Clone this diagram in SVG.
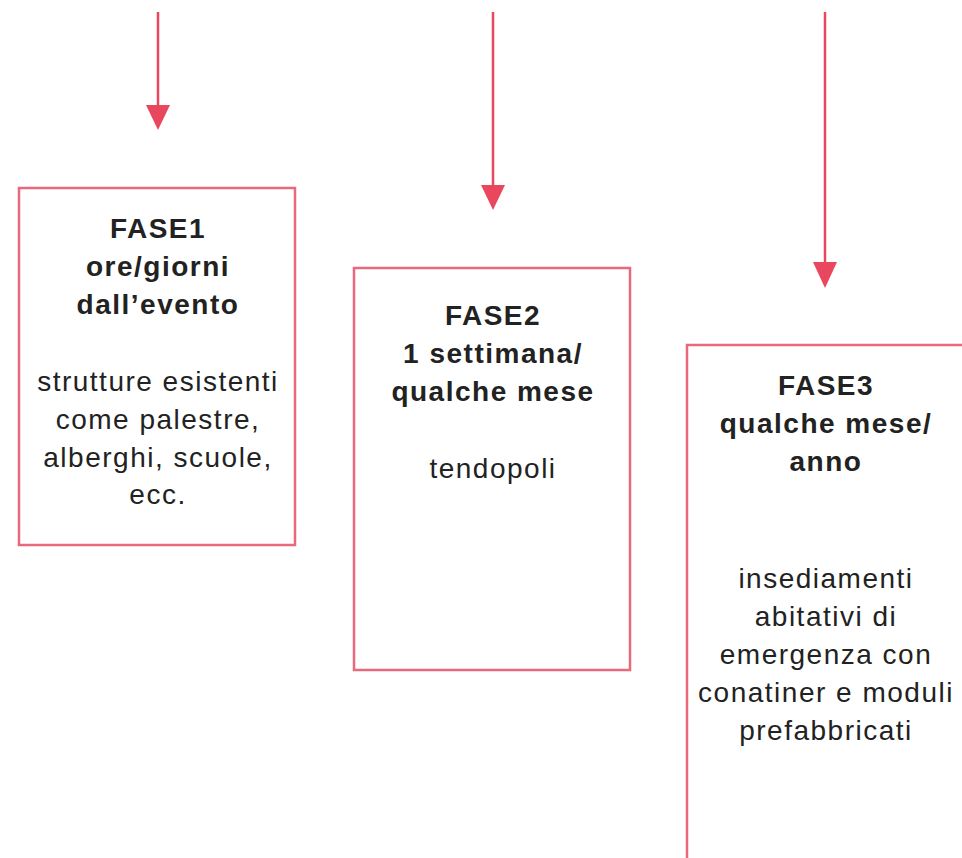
<svg xmlns="http://www.w3.org/2000/svg" width="962" height="858" viewBox="0 0 962 858">
<defs>
<style>
.box{fill:#fff;stroke:#e8687c;stroke-width:2.5}
.ln{stroke:#e8475e;stroke-width:2.5;fill:none}
.hd{fill:#e8475e}
.t{font-family:'Liberation Sans', Arial, Helvetica, sans-serif;font-size:28px;fill:#222;text-anchor:middle;letter-spacing:1.5px}
.b{font-weight:bold}
</style>
</defs>
<rect width="962" height="858" fill="#fff"/>
<g id="connectors">
<line class="ln" x1="158" y1="12" x2="158" y2="108"/>
<polygon class="hd" points="146,105 170,105 158,130"/>
<line class="ln" x1="493" y1="12" x2="493" y2="188"/>
<polygon class="hd" points="481,185 505,185 493,210"/>
<line class="ln" x1="825" y1="12" x2="825" y2="265"/>
<polygon class="hd" points="813,262 837,262 825,288"/>
</g>
<g id="fase1">
<rect class="box" x="19" y="188" width="276" height="357"/>
<text class="t b" x="158" y="238">FASE1</text>
<text class="t b" x="158" y="276">ore/giorni</text>
<text class="t b" x="158" y="314">dall’evento</text>
<text class="t" x="158" y="391">strutture esistenti</text>
<text class="t" x="158" y="429">come palestre,</text>
<text class="t" x="158" y="467">alberghi, scuole,</text>
<text class="t" x="158" y="504">ecc.</text>
</g>
<g id="fase2">
<rect class="box" x="354" y="268" width="276" height="402"/>
<text class="t b" x="493" y="325">FASE2</text>
<text class="t b" x="493" y="363">1 settimana/</text>
<text class="t b" x="493" y="401">qualche mese</text>
<text class="t" x="493" y="478">tendopoli</text>
</g>
<g id="fase3">
<rect class="box" x="687" y="345" width="290" height="530"/>
<text class="t b" x="826" y="395">FASE3</text>
<text class="t b" x="826" y="433">qualche mese/</text>
<text class="t b" x="826" y="471">anno</text>
<text class="t" x="826" y="588">insediamenti</text>
<text class="t" x="826" y="626">abitativi di</text>
<text class="t" x="826" y="664">emergenza con</text>
<text class="t" x="826" y="702">conatiner e moduli</text>
<text class="t" x="826" y="740">prefabbricati</text>
</g>
</svg>
